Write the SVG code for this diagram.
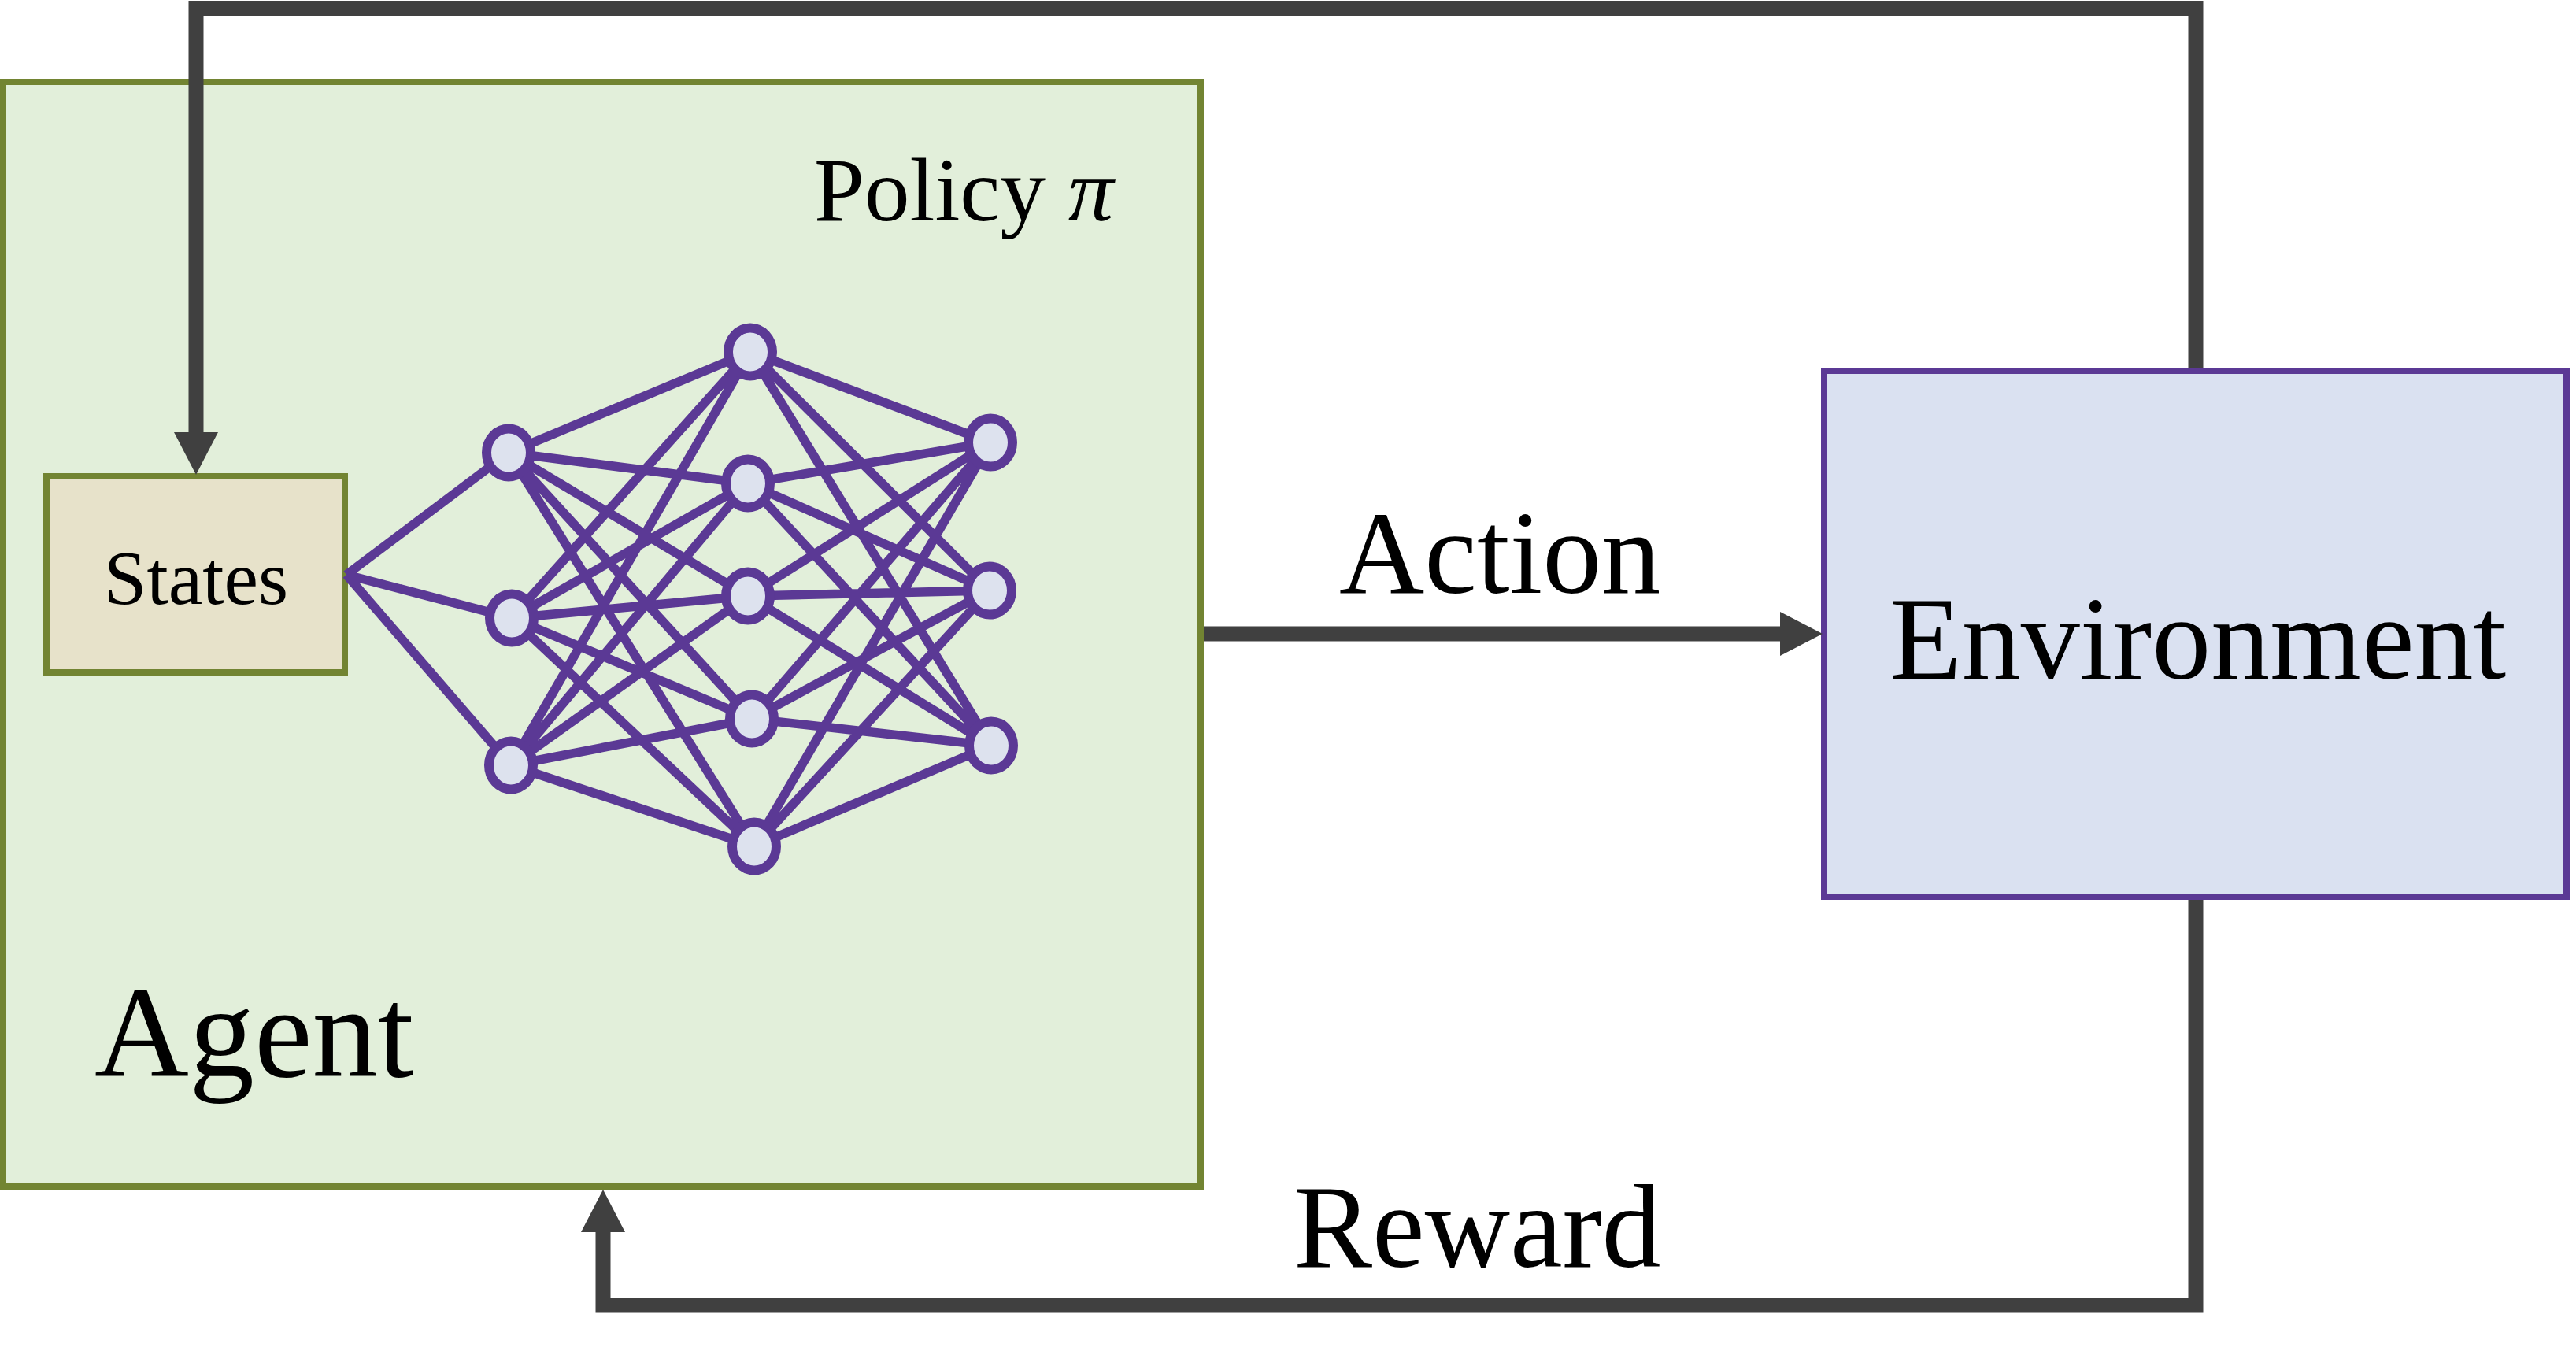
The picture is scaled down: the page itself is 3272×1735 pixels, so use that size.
<svg xmlns="http://www.w3.org/2000/svg" width="3272" height="1735" viewBox="0 0 3272 1735">
  <style>
    .txt { font-family: "Liberation Serif", "Times New Roman", serif; fill: #000000; }
    .conn { fill: none; stroke: #404040; stroke-width: 19; stroke-linecap: butt; stroke-linejoin: miter; }
    .edge { stroke: #5B3995; stroke-width: 11.5; fill: none; }
    .neuron { fill: #DDE2EE; stroke: #5B3995; stroke-width: 12; }
  </style>
  <defs>
    <marker id="head" markerUnits="userSpaceOnUse" viewBox="0 0 54 56" markerWidth="54" markerHeight="56" refX="0" refY="28" orient="auto">
      <path d="M0,0 L54,28 L0,56 Z" fill="#404040"/>
    </marker>
  </defs>
  <rect x="0" y="0" width="3272" height="1735" fill="#FFFFFF"/>

  <g id="agent">
    <rect x="4" y="104" width="1521" height="1403" fill="#E2EFDA" stroke="#728432" stroke-width="8"/>
    <text class="txt" x="120" y="1367" font-size="166">Agent</text>
    <text class="txt" x="1034" y="280" font-size="115">Policy <tspan font-style="italic">π</tspan></text>
  </g>

  <g id="environment">
    <rect x="2317" y="471" width="943" height="668" fill="#DAE1F1" stroke="#5B3995" stroke-width="8"/>
    <text class="txt" x="2400" y="862" font-size="150">Environment</text>
  </g>

  <g id="states">
    <rect x="59" y="605" width="379" height="249" fill="#E7E2CA" stroke="#728432" stroke-width="8"/>
    <text class="txt" x="249" y="767" font-size="98" text-anchor="middle">States</text>
  </g>

  <g id="network">
    <g id="network-edges">
      <path class="edge" d="M440,730 L646,575 M440,730 L650,785 M440,730 L649,972"/>
      <path class="edge" d="
        M646,575 L953,447 M646,575 L950,614 M646,575 L950,757 M646,575 L955,913 M646,575 L958,1075
        M650,785 L953,447 M650,785 L950,614 M650,785 L950,757 M650,785 L955,913 M650,785 L958,1075
        M649,972 L953,447 M649,972 L950,614 M649,972 L950,757 M649,972 L955,913 M649,972 L958,1075"/>
      <path class="edge" d="
        M953,447 L1258,562 M953,447 L1257,750 M953,447 L1259,947
        M950,614 L1258,562 M950,614 L1257,750 M950,614 L1259,947
        M950,757 L1258,562 M950,757 L1257,750 M950,757 L1259,947
        M955,913 L1258,562 M955,913 L1257,750 M955,913 L1259,947
        M958,1075 L1258,562 M958,1075 L1257,750 M958,1075 L1259,947"/>
    </g>
    <g id="layer-input">
      <ellipse class="neuron" cx="646" cy="575" rx="28" ry="30.5"/>
      <ellipse class="neuron" cx="650" cy="785" rx="28" ry="30.5"/>
      <ellipse class="neuron" cx="649" cy="972" rx="28" ry="30.5"/>
    </g>
    <g id="layer-hidden">
      <ellipse class="neuron" cx="953" cy="447" rx="28" ry="30.5"/>
      <ellipse class="neuron" cx="950" cy="614" rx="28" ry="30.5"/>
      <ellipse class="neuron" cx="950" cy="757" rx="28" ry="30.5"/>
      <ellipse class="neuron" cx="955" cy="913" rx="28" ry="30.5"/>
      <ellipse class="neuron" cx="958" cy="1075" rx="28" ry="30.5"/>
    </g>
    <g id="layer-output">
      <ellipse class="neuron" cx="1258" cy="562" rx="28" ry="30.5"/>
      <ellipse class="neuron" cx="1257" cy="750" rx="28" ry="30.5"/>
      <ellipse class="neuron" cx="1259" cy="947" rx="28" ry="30.5"/>
    </g>
  </g>

  <g id="connectors">
    <path id="state-feedback" class="conn" d="M2789,467 L2789,10.5 L249,10.5 L249,549" marker-end="url(#head)"/>
    <path id="action" class="conn" d="M1529,805 L2261,805" marker-end="url(#head)"/>
    <path id="reward" class="conn" d="M2789,1143 L2789,1658 L766,1658 L766,1565" marker-end="url(#head)"/>
    <text class="txt" x="1701" y="753" font-size="150">Action</text>
    <text class="txt" x="1643" y="1609" font-size="150">Reward</text>
  </g>
</svg>
